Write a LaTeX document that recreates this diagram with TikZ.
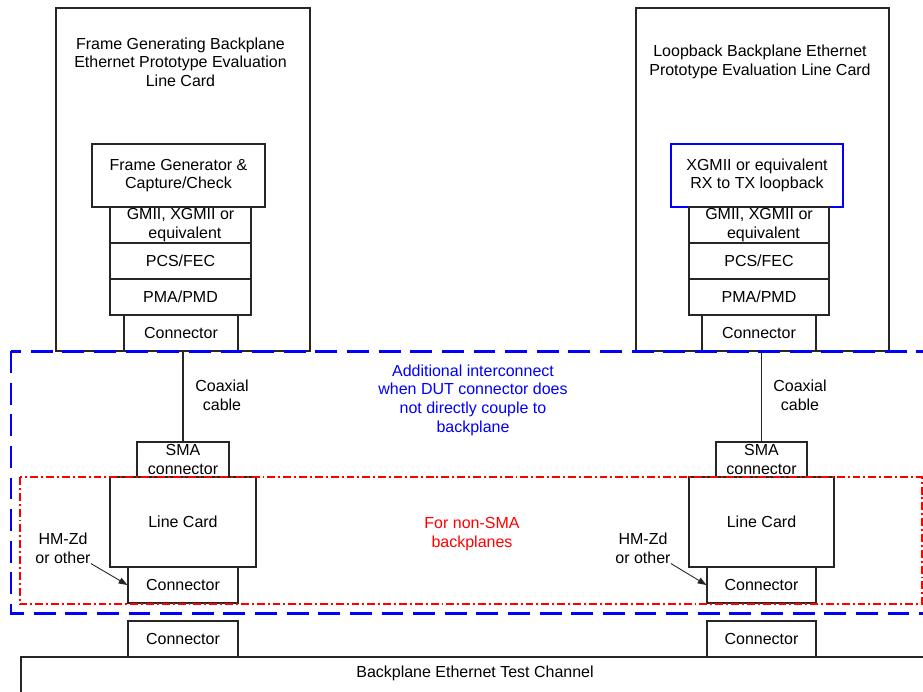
\documentclass[tikz,border=0pt]{standalone}
\usepackage{fontspec}
\setmainfont{Liberation Sans}
\usetikzlibrary{arrows.meta}
\definecolor{dutblue}{RGB}{0,0,255}
\definecolor{smared}{RGB}{255,0,0}
\def\blk[#1](#2)(#3,#4,#5,#6)#7{\node[blk,#1,minimum width={(#5-#3)*0.02cm},minimum height={(#6-#4)*0.02cm}] (#2) at ({(#3+#5)/2},{(#4+#6)/2}) {#7};}
\tikzset{
  blk/.style={draw=black!85, line width=0.6pt, inner sep=0pt, align=center},
  lbl/.style={align=center, inner sep=0pt},
  pointer/.style={draw=black!85, line width=0.5pt, -{Triangle[length=5pt,width=3.6pt]}},
}

\begin{document}
\begin{tikzpicture}[x=0.02cm, y=-0.02cm, font=\fontsize{9.1}{10.6}\selectfont]
				\clip (0,0) rectangle (923,691);
				
				\blk[](cardA)(56,8,310,351){}
				\node[lbl] (titleA) at (180.5,62) {Frame Generating Backplane\\Ethernet Prototype Evaluation\\Line Card};
				\blk[](genA)(92,144,265,207){Frame Generator \&\\Capture/Check}
				\blk[](gmiiA)(110,207,251,243){GMII, XGMII or\\\ \ equivalent}
				\blk[](pcsA)(110,243,251,279){PCS/FEC}
				\blk[](pmaA)(110,279,251,315){PMA/PMD}
				\blk[](conA)(124,315,238,351){Connector}
				
				\blk[](cardB)(636,8,889,351){}
				\node[lbl] (titleB) at (760,62) {Loopback Backplane Ethernet\\Prototype Evaluation Line Card};
				\blk[draw=dutblue](loopB)(671,144,843,207){XGMII or equivalent\\RX to TX loopback}
				\blk[](gmiiB)(689,207,829,243){GMII, XGMII or\\\ \ equivalent}
				\blk[](pcsB)(689,243,829,279){PCS/FEC}
				\blk[](pmaB)(689,279,829,315){PMA/PMD}
				\blk[](conB)(702,315,816,351){Connector}
				
				\blk[](smaA)(137,442,229,477){SMA\\connector}
				\blk[](lineA)(110,477,256,567){Line Card}
				\blk[](lconA)(128,567,238,603){Connector}
				\blk[](bconA)(128,621,238,657){Connector}
				
				\blk[](smaB)(716,442,807,477){SMA\\connector}
				\blk[](lineB)(689,477,834,567){Line Card}
				\blk[](lconB)(707,567,816,603){Connector}
				\blk[](bconB)(707,621,816,657){Connector}
				
				\draw[black!85, line width=0.6pt] (smaA.north) -- (smaA.north |- conA.south);
				\draw[black!85, line width=0.6pt] (smaB.north) -- (smaB.north |- conB.south);
				\node[lbl] (coaxA) at (222,395) {Coaxial\\cable};
				\node[lbl] (coaxB) at (800,395) {Coaxial\\cable};
				
				\node[lbl] (hmA) at (63,548) {HM-Zd\\or other};
				\node[lbl] (hmB) at (643,548) {HM-Zd\\or other};
				\draw[pointer] (hmA.south east) -- (lconA.west);
				\draw[pointer] (hmB.south east) -- (lconB.west);
				
				\blk[](chan)(21,657,960,720){}
				\node[lbl] (chanlbl) at (475,673) {Backplane Ethernet Test Channel};
				
				\draw[dutblue, line width=1.7pt, dash pattern=on 12.5pt off 5.5pt] (11,351) rectangle (940,613);
				\node[lbl, text=dutblue] (dutnote) at (473,400) {Additional interconnect\\when DUT connector does\\not directly couple to\\backplane};
				
				\draw[smared, line width=1.1pt, dash pattern=on 4.5pt off 1.7pt on 1.1pt off 1.7pt] (20,477) rectangle (922,604);
				\node[lbl, text=smared] (smanote) at (472,534) {For non-SMA\\backplanes};
\end{tikzpicture}
\end{document}
